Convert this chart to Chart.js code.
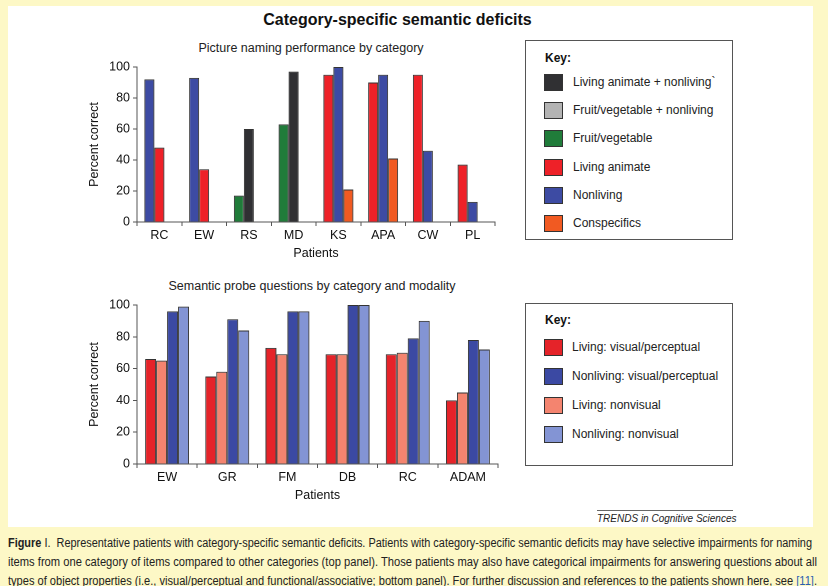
<!DOCTYPE html>
<html>
<head>
<meta charset="utf-8">
<script src="https://cdn.jsdelivr.net/npm/chart.js@4.4.1/dist/chart.umd.min.js"></script>
<style>
  html, body { margin:0; padding:0; }
  body { width:828px; height:586px; background:#fdf8c6; position:relative; overflow:hidden;
         font-family:"Liberation Sans", Arial, sans-serif; color:#222; }
  #panel { position:absolute; left:8px; top:6px; width:805px; height:521px; background:#fff; }
  .abs { position:absolute; white-space:nowrap; }
  #title { left:0; width:795px; top:10px; text-align:center; font-weight:bold; font-size:16px; line-height:20px; color:#111; }
  .sub { font-size:12.5px; line-height:16px; color:#222; transform:translateX(-50%); }
  canvas { position:absolute; }
  .key { position:absolute; border:1px solid #555; background:#fff; box-sizing:border-box; }
  .key .kt { position:absolute; font-weight:bold; font-size:12px; line-height:14px; color:#111; }
  .key .sw { position:absolute; width:19px; height:17px; box-sizing:border-box; border:1px solid #333; }
  .key .lt { position:absolute; font-size:12px; line-height:14px; color:#222; white-space:nowrap; }
  #trends { left:597px; top:510px; width:136px; border-top:1px solid #666; font-style:italic; font-size:10px; line-height:13px; text-align:right; padding-top:1px; color:#222;}
  .cap { position:absolute; left:8px; font-size:12.5px; line-height:16px; color:#222; white-space:nowrap; transform-origin:0 50%; }
  .cap b { font-weight:bold; }
  .ref { color:#2a5db0; }
</style>
</head>
<body>
<div id="panel"></div>
<div id="title" class="abs">Category-specific semantic deficits</div>
<div class="abs sub" style="left:311px; top:40px;">Picture naming performance by category</div>
<div class="abs sub" style="left:312px; top:278px;">Semantic probe questions by category and modality</div>

<canvas id="c1" style="left:87px; top:56px; width:413px; height:205px;"></canvas>
<canvas id="c2" style="left:87px; top:294px; width:416px; height:209px;"></canvas>

<div id="key1" class="key" style="left:525px; top:40px; width:208px; height:200px;"></div>
<div id="key2" class="key" style="left:525px; top:303px; width:208px; height:163px;"></div>

<div id="trends" class="abs">TRENDS in Cognitive Sciences</div>

<div class="cap" id="cap1" style="top:535px;"><b>Figure</b> I.&nbsp; Representative patients with category-specific semantic deficits. Patients with category-specific semantic deficits may have selective impairments for naming</div>
<div class="cap" id="cap2" style="top:554px;">items from one category of items compared to other categories (top panel). Those patients may also have categorical impairments for answering questions about all</div>
<div class="cap" id="cap3" style="top:573px;">types of object properties (i.e., visual/perceptual and functional/associative; bottom panel). For further discussion and references to the patients shown here, see <span class="ref">[11]</span>.</div>

<script>
// ---------- Top panel data: picture naming (% correct) ----------
const namingPatients = ['RC','EW','RS','MD','KS','APA','CW','PL'];
const namingAnimateNonliving = [null, null, 60, 97, null, null, null, null];
const namingFruitNonliving   = [null, null, null, null, null, null, null, null];
const namingFruitVeg         = [null, null, 17, 63, null, null, null, null];
const namingLivingAnimate    = [48, 34, null, null, 95, 90, 95, 37];
const namingNonliving        = [92, 93, null, null, 100, 95, 46, 13];
const namingConspecifics     = [null, null, null, null, 21, 41, null, null];
// order in which each patient's bars appear, left to right
const namingBarOrder = [
  ['nonliving','animate'], ['nonliving','animate'], ['fruit','animNonliv'], ['fruit','animNonliv'],
  ['animate','nonliving','consp'], ['animate','nonliving','consp'], ['animate','nonliving'], ['animate','nonliving']
];
const namingKeyLabels = ['Living animate + nonliving`','Fruit/vegetable + nonliving','Fruit/vegetable','Living animate','Nonliving','Conspecifics'];

// ---------- Bottom panel data: semantic probe questions (% correct) ----------
const probePatients = ['EW','GR','FM','DB','RC','ADAM'];
const probeLivingVisual       = [66, 55, 73, 69, 69, 40];
const probeLivingNonvisual    = [65, 58, 69, 69, 70, 45];
const probeNonlivingVisual    = [96, 91, 96, 100, 79, 78];
const probeNonlivingNonvisual = [99, 84, 96, 100, 90, 72];
const probeKeyLabels = ['Living: visual/perceptual','Nonliving: visual/perceptual','Living: nonvisual','Nonliving: nonvisual'];

const yTicks = [0, 20, 40, 60, 80, 100];

// ---------- styles ----------
const C = {
  animNonliv:'#303033', fruitNonliv:'#b3b3b3', fruit:'#207c3a', animate:'#ee2128', nonliving:'#3d4ba3', consp:'#f15a22',
  lv:'#e52329', nlv:'#3b49a3', ln:'#f4846f', nln:'#8394d4'
};
const namingSeries = {
  animNonliv: namingAnimateNonliving, fruitNonliv: namingFruitNonliving, fruit: namingFruitVeg,
  animate: namingLivingAnimate, nonliving: namingNonliving, consp: namingConspecifics
};

// build slot datasets for the naming chart
const namingDatasets = [0,1,2].map(s => {
  const data = [], bg = [];
  namingPatients.forEach((p, i) => {
    const key = namingBarOrder[i][s];
    data.push(key ? namingSeries[key][i] : null);
    bg.push(key ? C[key] : 'rgba(0,0,0,0)');
  });
  return { label:'slot'+(s+1), data, backgroundColor:bg, borderColor:'#333', borderWidth:1, borderSkipped:'bottom',
           categoryPercentage:0.67, barPercentage:1.0 };
});

const probeDatasets = [
  { label:probeKeyLabels[0], data:probeLivingVisual, backgroundColor:C.lv },
  { label:probeKeyLabels[2], data:probeLivingNonvisual, backgroundColor:C.ln },
  { label:probeKeyLabels[1], data:probeNonlivingVisual, backgroundColor:C.nlv },
  { label:probeKeyLabels[3], data:probeNonlivingNonvisual, backgroundColor:C.nln }
].map(d => Object.assign(d, { borderColor:'#333', borderWidth:1, borderSkipped:'bottom', categoryPercentage:0.73, barPercentage:1.0 }));

const FONT = { family:'"Liberation Sans", Arial, sans-serif', size:12.5 };

function makeOptions(xh, yw) {
  return {
    responsive:false, animation:false, devicePixelRatio:2,
    layout:{ padding:{ top:11, right:5, bottom:0, left:0 } },
    plugins:{ legend:{ display:false }, tooltip:{ enabled:false }, title:{ display:false } },
    scales:{
      x:{
        offset:true,
        grid:{ display:true, drawOnChartArea:false, drawTicks:true, tickLength:4, color:'#555', offset:true },
        border:{ display:true, color:'#555', width:1 },
        ticks:{ color:'#111', font:FONT, padding:2, maxRotation:0, autoSkip:false },
        title:{ display:true, text:'Patients', color:'#111', font:FONT, padding:{ top:0, bottom:0 } },
        afterFit:(s) => { s.height = xh; }
      },
      y:{
        min:0, max:100,
        afterBuildTicks:(s) => { s.ticks = yTicks.map(v => ({ value:v })); },
        grid:{ display:true, drawOnChartArea:false, drawTicks:true, tickLength:4, color:'#555' },
        border:{ display:true, color:'#555', width:1 },
        ticks:{ color:'#111', font:FONT, padding:3 },
        title:{ display:true, text:'Percent correct', color:'#111', font:FONT, padding:{ top:0, bottom:0 } },
        afterFit:(s) => { s.width = yw; }
      }
    }
  };
}

function setupCanvas(id) {
  const c = document.getElementById(id);
  c.width = parseFloat(c.style.width); c.height = parseFloat(c.style.height);
  return c;
}

new Chart(setupCanvas('c1'), { type:'bar', data:{ labels:namingPatients, datasets:namingDatasets }, options:makeOptions(39, 50) });
new Chart(setupCanvas('c2'), { type:'bar', data:{ labels:probePatients, datasets:probeDatasets }, options:makeOptions(39, 50) });

// ---------- keys ----------
function buildKey(el, labels, colors, keyY, ys, textX) {
  const kt = document.createElement('div'); kt.className = 'kt'; kt.textContent = 'Key:';
  kt.style.left = '19px'; kt.style.top = (keyY - 7) + 'px'; el.appendChild(kt);
  labels.forEach((t, i) => {
    const sw = document.createElement('div'); sw.className = 'sw';
    sw.style.left = '18px'; sw.style.top = (ys[i] - 8.5) + 'px'; sw.style.background = colors[i]; el.appendChild(sw);
    const lt = document.createElement('div'); lt.className = 'lt'; lt.textContent = t;
    lt.style.left = textX + 'px'; lt.style.top = (ys[i] - 7) + 'px'; el.appendChild(lt);
  });
}
buildKey(document.getElementById('key1'), namingKeyLabels,
  [C.animNonliv, C.fruitNonliv, C.fruit, C.animate, C.nonliving, C.consp],
  17, [41, 69, 97, 126, 154, 182], 47);
buildKey(document.getElementById('key2'), probeKeyLabels,
  [C.lv, C.nlv, C.ln, C.nln],
  16, [43, 72, 101, 130], 46);

// ---------- caption fitting ----------
[['cap1', 804], ['cap2', 809], ['cap3', 809]].forEach(([id, w]) => {
  const el = document.getElementById(id);
  const nat = el.getBoundingClientRect().width;
  el.style.transform = 'scaleX(' + (w / nat) + ')';
});
</script>
</body>
</html>
